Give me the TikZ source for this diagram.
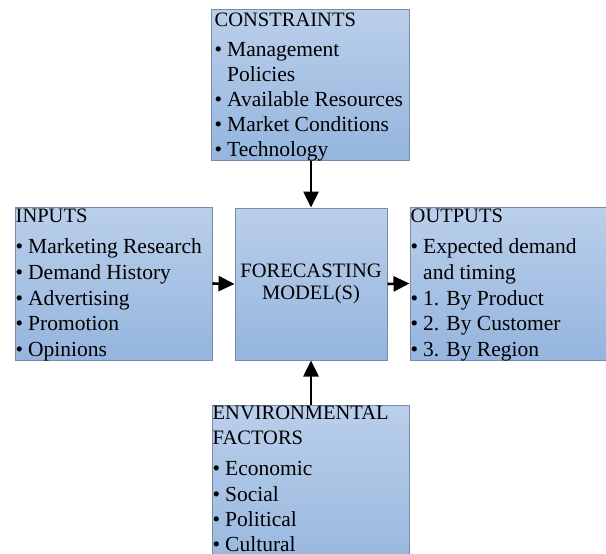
\documentclass[tikz,border=0pt]{standalone}
\usepackage{fontspec}
\setmainfont{Liberation Serif}
\usetikzlibrary{arrows.meta}
\definecolor{boxtop}{RGB}{186,207,234}
\definecolor{boxbot}{RGB}{149,181,222}
\definecolor{boxline}{RGB}{120,140,165}
\tikzset{
  box/.style={draw=boxline, line width=1pt, top color=boxtop, bottom color=boxbot, inner sep=0pt},
  txt/.style={anchor=north west, inner sep=0pt, font=\fontsize{21.5}{#1}\selectfont},
  conn/.style={line width=2.6pt, -{Triangle[length=16pt,width=15pt]}}
}
\newcommand{\ttl}[1]{\multicolumn{2}{@{}l@{}}{\fontsize{20.5}{24}\selectfont #1}}
\newcommand{\blist}[3]{\begin{tabular}{@{}l@{\hspace{5pt}}l@{}}#2\\[#1]#3\end{tabular}}
\begin{document}
\begin{tikzpicture}[x=1pt,y=-1pt]
\useasboundingbox (0,0) rectangle (606,554);
\node[box, minimum width=198pt, minimum height=151pt] (cons) at (310,84.5) {};
\node[box, minimum width=197pt, minimum height=153pt] (inp) at (113.5,283.5) {};
\node[box, minimum width=152pt, minimum height=152pt] (fc) at (311,284) {};
\node[box, minimum width=197pt, minimum height=153pt] (out) at (508.5,283.5) {};
\node[box, minimum width=197pt, minimum height=175pt] (env) at (310.5,492.5) {};

\node[txt=24.8] (consT) at ([xshift=4pt]cons.north west)
  {\blist{6pt}{\ttl{CONSTRAINTS}}{•&Management\\&Policies\\•&Available Resources\\•&Market Conditions\\•&Technology}};
\node[txt=25.7] (inpT) at ([xshift=1pt,yshift=1.7pt]inp.north west)
  {\blist{5pt}{\ttl{INPUTS}}{•&Marketing Research\\•&Demand History\\•&Advertising\\•&Promotion\\•&Opinions}};
\node[txt=25.7] (outT) at ([xshift=1pt,yshift=1.7pt]out.north west)
  {\blist{5pt}{\ttl{OUTPUTS}}{•&Expected demand\\&and timing\\•&1. By Product\\•&2. By Customer\\•&3. By Region}};
\node[txt=25.3] (envT) at ([xshift=1pt,yshift=2.7pt]env.north west)
  {\blist{6.5pt}{\ttl{ENVIRONMENTAL}\\[-1pt]\ttl{FACTORS}}{•&Economic\\•&Social\\•&Political\\•&Cultural}};
\node[align=center, inner sep=0pt, font=\fontsize{20.5}{22}\selectfont] (fcT) at (fc.center) {FORECASTING\\MODEL(S)};

\draw[conn] (fc.north |- cons.south) -- (fc.north);
\draw[conn] (fc.south |- env.north) -- (fc.south);
\draw[conn] (inp.east) -- (fc.west);
\draw[conn] (fc.east) -- (out.west);
\end{tikzpicture}
\end{document}
